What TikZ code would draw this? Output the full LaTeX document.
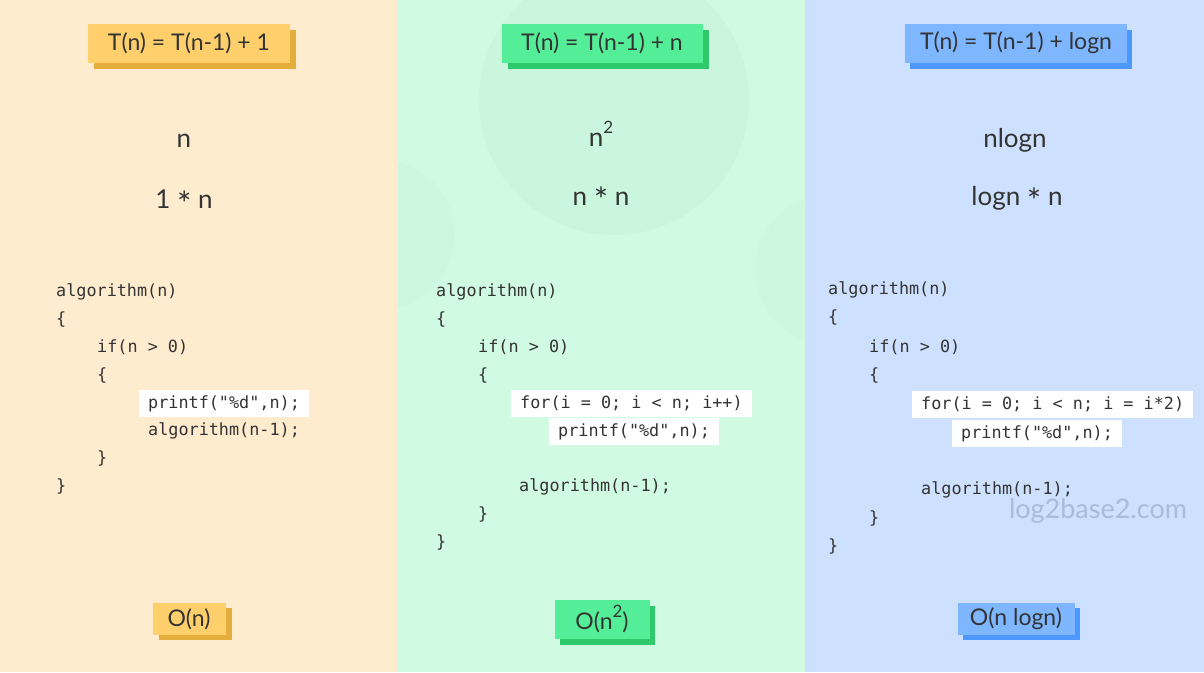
\documentclass[tikz,border=0pt]{standalone}
\usepackage{fontspec}
\setmainfont{Lato}
\setmonofont{DejaVu Sans Mono}
\usetikzlibrary{shadows}
\definecolor{paleorange}{HTML}{FFEBCD}
\definecolor{palegreen}{HTML}{D0FAE2}
\definecolor{paleblue}{HTML}{CDE1FF}
\definecolor{ringgreen}{HTML}{CAF6DD}
\definecolor{boxorange}{HTML}{FFCF6C}
\definecolor{shadeorange}{HTML}{E5AD3C}
\definecolor{boxgreen}{HTML}{55EE98}
\definecolor{shadegreen}{HTML}{2DC96B}
\definecolor{boxblue}{HTML}{7EB6FF}
\definecolor{shadeblue}{HTML}{4C98FF}
\definecolor{ink}{HTML}{333333}
\definecolor{mark}{HTML}{A9BBD6}
\newcommand{\sq}{\raisebox{0.5em}{\fontsize{17}{20}\selectfont 2}}
\newcommand{\tms}{\raisebox{-0.3em}{\fontsize{34}{34}\selectfont *}}

\begin{document}
\begin{tikzpicture}[x=1pt, y=-1pt,
  tag/.style={text=ink, font=\fontsize{23}{27}\selectfont, inner sep=0pt},
  big/.style={text=ink, font=\fontsize{26}{30}\selectfont, inner sep=0pt},
  code/.style={text=ink, font=\ttfamily\fontsize{16.8}{20}\selectfont, anchor=west,
    inner xsep=0pt, inner ysep=0pt, text height=12.5pt, text depth=3.5pt, yshift=-1.5pt},
  hl/.style={code, fill=white, inner xsep=9pt, inner ysep=5.5pt}]
  \useasboundingbox (0,0) rectangle (1204,672);

  % panels
  \fill[paleorange] (0,0) rectangle (398,672);
  \fill[palegreen] (398,0) rectangle (805,672);
  \fill[paleblue] (805,0) rectangle (1204,672);
  \begin{scope}
    \clip (398,0) rectangle (805,672);
    \fill[ringgreen] (614,100) circle (135);
    \fill[ringgreen!60!palegreen] (380,235) circle (75);
    \fill[ringgreen!60!palegreen] (830,270) circle (75);
  \end{scope}

  % recurrences
  \node[tag, fill=boxorange, minimum width=202, minimum height=39,
    drop shadow={shadow xshift=6pt, shadow yshift=-6pt, fill=shadeorange, opacity=1}]
    (t1) at (189,43) {T(n) = T(n-1) + 1};
  \node[tag, fill=boxgreen, minimum width=201, minimum height=39,
    drop shadow={shadow xshift=6pt, shadow yshift=-6pt, fill=shadegreen, opacity=1}]
    (t2) at (602,43) {T(n) = T(n-1) + n};
  \node[tag, fill=boxblue, minimum width=222, minimum height=39,
    drop shadow={shadow xshift=5pt, shadow yshift=-6pt, fill=shadeblue, opacity=1}]
    (t3) at (1016,43) {T(n) = T(n-1) + logn};

  % growth
  \node[big] (g1) at (184,141) {n};
  \node[big] (f1) at (184,203) {1 \tms{} n};
  \node[big] (g2) at (601,134) {n\sq};
  \node[big] (f2) at (601,200) {n \tms{} n};
  \node[big] (g3) at (1015,140) {nlogn};
  \node[big] (f3) at (1017,200) {logn \tms{} n};

  % code, first panel
  \foreach \x/\y/\t [count=\i] in {56/290/algorithm(n), 56/318/\{, 97/346/if(n > 0),
      97/374/\{, 148/429/algorithm(n-1);, 97/457/\}, 56/485/\}}
    \node[code] (a\i) at (\x,\y) {\t};
  \node[hl] (a8) at (139,402) {printf("\%d",n);};

  % code, second panel
  \foreach \x/\y/\t [count=\i] in {436/290/algorithm(n), 436/318/\{, 478/346/if(n > 0),
      478/374/\{, 519/485/algorithm(n-1);, 478/513/\}, 436/541/\}}
    \node[code] (b\i) at (\x,\y) {\t};
  \node[hl] (b8) at (511,402) {for(i = 0; i < n; i++)};
  \node[hl] (b9) at (549,430) {printf("\%d",n);};

  % code, third panel
  \foreach \x/\y/\t [count=\i] in {828/288/algorithm(n), 828/316/\{, 869/346/if(n > 0),
      869/374/\{, 921/488/algorithm(n-1);, 869/517/\}, 828/545/\}}
    \node[code] (c\i) at (\x,\y) {\t};
  \node[hl] (c8) at (912,403) {for(i = 0; i < n; i = i*2)};
  \node[hl] (c9) at (952,432) {printf("\%d",n);};

  \node[big, text=mark, font=\fontsize{27}{30}\selectfont] (wm) at (1098,511) {log2base2.com};

  % orders
  \node[tag, fill=boxorange, minimum width=73, minimum height=32,
    drop shadow={shadow xshift=6pt, shadow yshift=-5pt, fill=shadeorange, opacity=1}]
    (o1) at (189,619) {O(n)};
  \node[tag, fill=boxgreen, minimum width=95, minimum height=39,
    drop shadow={shadow xshift=5pt, shadow yshift=-6pt, fill=shadegreen, opacity=1}]
    (o2) at (602,619) {O(n\sq)};
  \node[tag, fill=boxblue, minimum width=117, minimum height=32,
    drop shadow={shadow xshift=5pt, shadow yshift=-5pt, fill=shadeblue, opacity=1}]
    (o3) at (1016,619) {O(n logn)};
\end{tikzpicture}
\end{document}
